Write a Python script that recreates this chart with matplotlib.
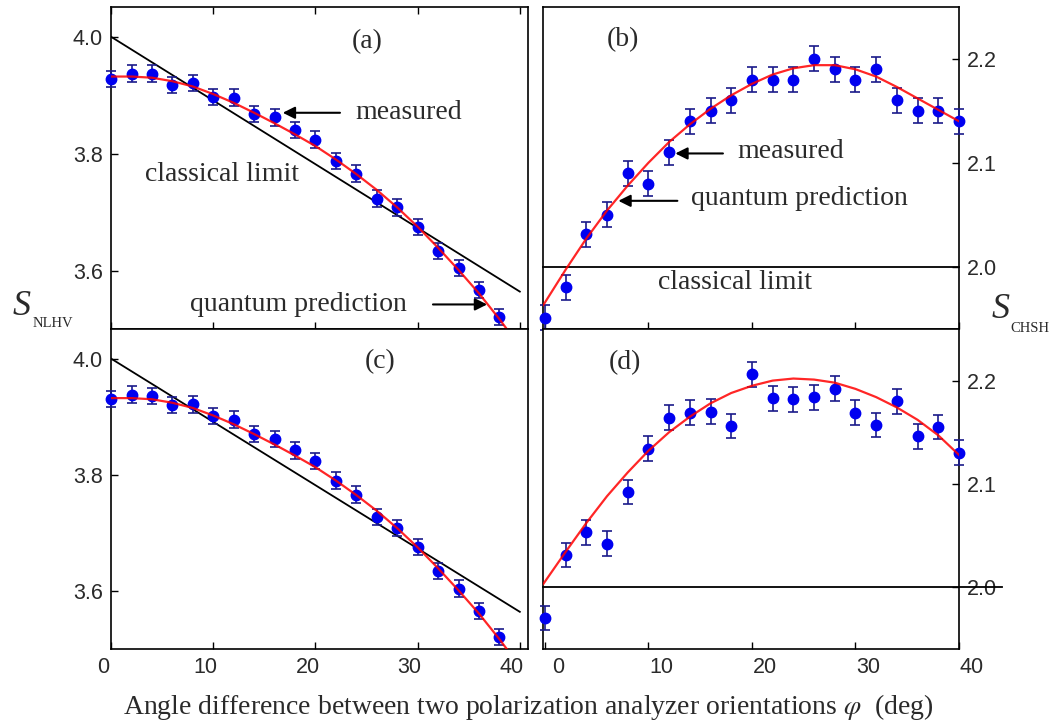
import matplotlib
matplotlib.use('Agg')
import matplotlib.pyplot as plt
import matplotlib.transforms as mtransforms

plt.rcParams['mathtext.fontset'] = 'stix'

phi_left = [0, 2, 4, 6, 8, 10, 12, 14, 16, 18, 20, 22, 24, 26, 28, 30, 32, 34, 36, 38]
phi_right = [0, 2, 4, 6, 8, 10, 12, 14, 16, 18, 20, 22, 24, 26, 28, 30, 32, 34, 36, 38, 40]

s_nlhv_a = [3.928, 3.937, 3.937, 3.917, 3.921, 3.897, 3.896, 3.868, 3.862, 3.841,
            3.824, 3.788, 3.766, 3.723, 3.708, 3.674, 3.633, 3.604, 3.567, 3.521]
s_nlhv_c = [3.931, 3.938, 3.936, 3.920, 3.921, 3.901, 3.895, 3.870, 3.862, 3.842,
            3.824, 3.790, 3.766, 3.727, 3.708, 3.676, 3.634, 3.604, 3.565, 3.521]
err_left = [0.014] * 20

s_chsh_b = [1.951, 1.980, 2.031, 2.050, 2.090, 2.080, 2.110, 2.140, 2.150, 2.160, 2.180,
            2.180, 2.180, 2.200, 2.190, 2.180, 2.190, 2.160, 2.150, 2.150, 2.140]
s_chsh_d = [1.970, 2.031, 2.053, 2.042, 2.092, 2.134, 2.164, 2.169, 2.170, 2.156, 2.206,
            2.183, 2.182, 2.184, 2.192, 2.169, 2.157, 2.180, 2.146, 2.155, 2.130]
err_right = [0.012] * 21

# quantum prediction curves
q_phi_left = [0, 2, 4, 6, 8, 10, 12, 14, 16, 18, 20, 22, 24, 26, 28, 30, 32, 34, 36, 38, 40]
q_nlhv = [3.932, 3.932, 3.930, 3.924, 3.915, 3.902, 3.887, 3.870, 3.852, 3.833, 3.813,
          3.790, 3.765, 3.738, 3.708, 3.675, 3.639, 3.601, 3.561, 3.517, 3.470]
q_phi_right = [-0.15, 2, 4, 6, 8, 10, 12, 14, 16, 18, 20, 22, 24, 26, 28, 30, 32, 34, 36, 38, 40]
q_chsh_b = [1.963, 1.997, 2.027, 2.054, 2.078, 2.100, 2.120, 2.137, 2.152, 2.165, 2.176,
            2.185, 2.191, 2.194, 2.194, 2.190, 2.183, 2.173, 2.162, 2.151, 2.140]
q_chsh_d = [2.003, 2.034, 2.062, 2.088, 2.111, 2.132, 2.150, 2.165, 2.178, 2.188, 2.195,
            2.200, 2.202, 2.201, 2.198, 2.192, 2.184, 2.174, 2.162, 2.147, 2.128]

# classical limits
cl_left_x = [0, 40]
cl_left_y = [4.0, 3.564]
cl_b_x = [-0.15, 40]
cl_d_x = [-0.15, 44.2]
cl_right_y = [2.0, 2.0]

blue = '#0000f0'
ecol = '#1a1a8a'
tcol = '#2a2a2a'
serif = 'Liberation Serif'
sans = 'Liberation Sans'

fig = plt.figure(figsize=(10.63, 7.25), dpi=100)
W, H = 1063.0, 725.0


def make_ax(x0, x1, ytop, ybot):
    return fig.add_axes([x0 / W, 1 - ybot / H, (x1 - x0) / W, (ybot - ytop) / H])


ax_a = make_ax(111.1, 528, 7, 329)
ax_b = make_ax(543.3, 959, 7, 329)
ax_c = make_ax(111.1, 528, 329, 649)
ax_d = make_ax(543.3, 959, 329, 649)

for ax in (ax_a, ax_b, ax_c, ax_d):
    for sp in ax.spines.values():
        sp.set_linewidth(1.2)
    ax.tick_params(direction='in', length=5, width=1.0, labelsize=15.5,
                   labelcolor=tcol, pad=6)

# left panels
for ax, s in ((ax_a, s_nlhv_a), (ax_c, s_nlhv_c)):
    ax.plot(cl_left_x, cl_left_y, color='black', lw=1.3, zorder=2)
    ax.errorbar(phi_left, s, yerr=err_left, fmt='o', color=blue, ms=7.5,
                ecolor=ecol, elinewidth=1.2, capsize=3.5, capthick=1.2, zorder=3,
                clip_on=False)
    ax.plot(q_phi_left, q_nlhv, color='red', lw=1.6, alpha=0.85, zorder=4)
    ax.set_xlim(0, 40.8)
    ax.set_ylim(3.5, 4.051)
    ax.set_xticks([0, 10, 20, 30, 40])
    ax.set_yticks([3.6, 3.8, 4.0])
    ax.yaxis.set_major_formatter(matplotlib.ticker.FormatStrFormatter('%.1f'))

ax_a.tick_params(top=True, labelbottom=False)
ax_c.tick_params(labelbottom=True)

# right panels
for ax, s, q, clx in ((ax_b, s_chsh_b, q_chsh_b, cl_b_x), (ax_d, s_chsh_d, q_chsh_d, cl_d_x)):
    ax.plot(clx, cl_right_y, color='black', lw=1.3, zorder=2, clip_on=False)
    ax.errorbar(phi_right, s, yerr=err_right, fmt='o', color=blue, ms=7.5,
                ecolor=ecol, elinewidth=1.2, capsize=3.5, capthick=1.2, zorder=3,
                clip_on=False)
    ax.plot(q_phi_right, q, color='red', lw=1.6, alpha=0.85, zorder=4)
    ax.set_xlim(-0.15, 40)
    ax.set_ylim(1.94, 2.25)
    ax.set_xticks([0, 10, 20, 30, 40])
    ax.set_yticks([2.0, 2.1, 2.2])
    ax.yaxis.tick_right()
    ax.tick_params(axis='y', left=False, right=True, labelleft=False, labelright=True)
    ax.yaxis.set_major_formatter(matplotlib.ticker.FormatStrFormatter('%.1f'))

ax_b.tick_params(labelbottom=False)

# shift tick labels a bit like the reference
for lab in ax_c.get_xticklabels():
    lab.set_transform(lab.get_transform() + mtransforms.ScaledTranslation(-8 / 100, 0, fig.dpi_scale_trans))
for lab in ax_d.get_xticklabels():
    lab.set_transform(lab.get_transform() + mtransforms.ScaledTranslation(13 / 100, 0, fig.dpi_scale_trans))

for ax in (ax_a, ax_b, ax_c, ax_d):
    for lab in ax.get_xticklabels() + ax.get_yticklabels():
        lab.set_fontfamily(sans)

# panel letters
tk = dict(fontsize=20, family=serif, color=tcol, ha='center', va='center')
ax_a.text(25.1, 3.991, '(a)', **tk)
ax_b.text(7.56, 2.2186, '(b)', **tk)
ax_c.text(26.3, 3.995, '(c)', **tk)
ax_d.text(7.76, 2.2175, '(d)', **tk)

# annotations
ak = dict(fontsize=20, family=serif, color=tcol, ha='left', va='center')
arr = dict(arrowstyle='-|>', color='black', lw=1.5, mutation_scale=18, shrinkA=0, shrinkB=0)

ax_a.text(23.9, 3.870, 'measured', **ak)
ax_a.annotate('', xy=(16.8, 3.870), xytext=(22.4, 3.870), arrowprops=arr)
ax_a.text(3.3, 3.765, 'classical limit', **ak)
ax_a.text(7.7, 3.542, 'quantum prediction', **ak)
ax_a.annotate('', xy=(36.8, 3.542), xytext=(31.5, 3.542), arrowprops=arr)

ax_b.text(18.56, 2.1106, 'measured', **ak)
ax_b.annotate('', xy=(12.6, 2.109), xytext=(17.2, 2.109), arrowprops=arr)
ax_b.text(14.1, 2.0653, 'quantum prediction', **ak)
ax_b.annotate('', xy=(7.1, 2.0634), xytext=(12.8, 2.0634), arrowprops=arr)
ax_b.text(10.9, 1.9843, 'classical limit', **ak)

# axis labels
fig.text(13 / W, 1 - 315 / H, 'S', fontsize=26, family=serif, style='italic',
         color=tcol, ha='left', va='baseline')
fig.text(33 / W, 1 - 327 / H, 'NLHV', fontsize=10.5, family=serif,
         color=tcol, ha='left', va='baseline')
fig.text(992 / W, 1 - 318 / H, 'S', fontsize=26, family=serif, style='italic',
         color=tcol, ha='left', va='baseline')
fig.text(1010 / W, 1 - 332 / H, 'CHSH', fontsize=10.5, family=serif,
         color=tcol, ha='left', va='baseline')

fig.text(528 / W, 1 - 707 / H,
         r'Angle difference between two polarization analyzer orientations $\varphi$  (deg)',
         fontsize=20, family=serif, color=tcol, ha='center', va='center')

fig.savefig('out.png', dpi=100)
